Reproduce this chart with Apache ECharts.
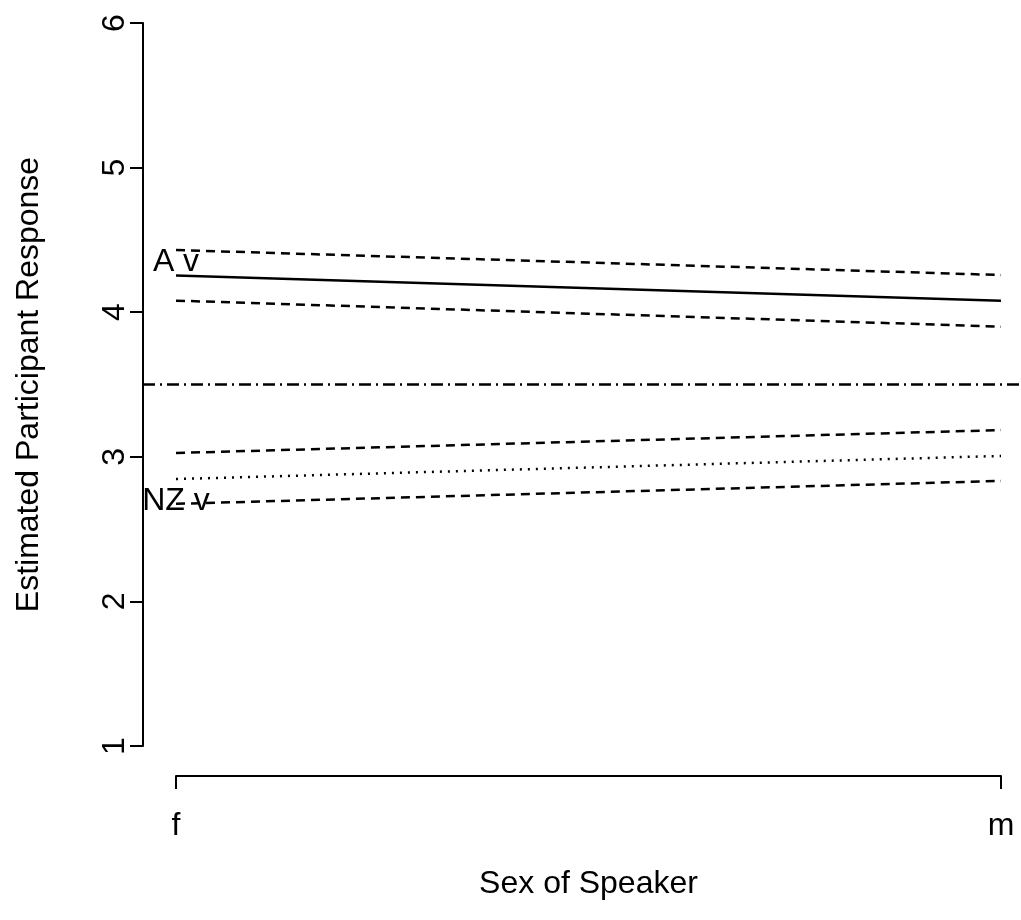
<!DOCTYPE html>
<html><head><meta charset="utf-8">
<script src="https://cdn.jsdelivr.net/npm/echarts@6/dist/echarts.min.js"></script>
<style>html,body{margin:0;padding:0;background:#fff}#c{width:1021px;height:920px}</style>
</head><body><div id="c"></div>
<script>
const categories = ['f', 'm'];
const aFit = [4.253, 4.08];
const aUpper = [4.43, 4.257];
const aLower = [4.08, 3.90];
const nzFit = [2.846, 3.006];
const nzUpper = [3.026, 3.185];
const nzLower = [2.675, 2.833];
const refLevel = 3.5;
const groupLabels = ['A v', 'NZ v'];
const groupLabelY = [4.347, 2.69];

const FONT = "'Liberation Sans', Arial, Helvetica, sans-serif";
const FS = 32;
const black = '#000';
const chart = echarts.init(document.getElementById('c'), null, {renderer: 'canvas'});

function lineSeries(data, dash) {
  return {
    type: 'line', xAxisIndex: 1, yAxisIndex: 1,
    data: data, symbol: 'none', silent: true,
    lineStyle: {color: black, width: 2.5, type: dash}
  };
}

chart.setOption({
  animation: false,
  backgroundColor: '#fff',
  grid: [
    {left: 143, right: 0, top: 23, bottom: 174},
    {left: 176, right: 20, top: 23, bottom: 174}
  ],
  xAxis: [
    {gridIndex: 0, type: 'value', min: 0, max: 1, show: false},
    {
      gridIndex: 1, type: 'category', data: categories, boundaryGap: false,
      position: 'bottom', offset: 30,
      axisLine: {lineStyle: {color: black, width: 2}},
      axisTick: {show: true, length: 13, lineStyle: {color: black, width: 2}},
      axisLabel: {color: black, fontSize: FS, fontFamily: FONT, margin: 34},
      name: 'Sex of Speaker', nameLocation: 'middle', nameGap: 92,
      nameTextStyle: {color: black, fontSize: FS, fontFamily: FONT},
      splitLine: {show: false}
    }
  ],
  yAxis: [
    {
      gridIndex: 0, type: 'value', min: 1, max: 6, interval: 1,
      axisLine: {show: true, lineStyle: {color: black, width: 2}},
      axisTick: {show: true, length: 13, lineStyle: {color: black, width: 2}},
      axisLabel: {color: black, fontSize: FS, fontFamily: FONT, rotate: 90, margin: 12},
      name: 'Estimated Participant Response', nameLocation: 'middle', nameGap: 98,
      nameTextStyle: {color: black, fontSize: FS, fontFamily: FONT},
      splitLine: {show: false}
    },
    {gridIndex: 1, type: 'value', min: 1, max: 6, show: false}
  ],
  series: [
    {
      type: 'line', xAxisIndex: 0, yAxisIndex: 0, symbol: 'none', silent: true,
      data: [[0, refLevel], [1, refLevel]],
      lineStyle: {color: black, width: 2.5, type: [12, 5, 2, 5]}
    },
    lineSeries(aFit, 'solid'),
    lineSeries(aUpper, [9, 6]),
    lineSeries(aLower, [9, 6]),
    lineSeries(nzFit, [2, 6]),
    lineSeries(nzUpper, [9, 6]),
    lineSeries(nzLower, [9, 6]),
    {
      type: 'scatter', xAxisIndex: 1, yAxisIndex: 1, symbolSize: 0, silent: true,
      data: groupLabels.map((n, i) => ({name: n, value: [categories[0], groupLabelY[i]]})),
      label: {
        show: true, position: 'inside', formatter: p => p.name,
        color: black, fontSize: FS, fontFamily: FONT, textBorderWidth: 0, opacity: 1
      }
    }
  ]
});
</script></body></html>
